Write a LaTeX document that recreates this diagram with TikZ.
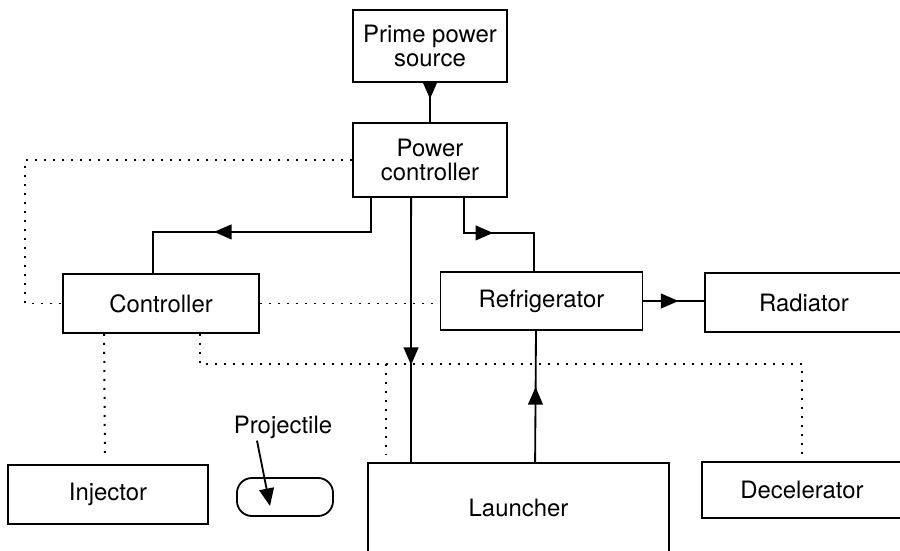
\documentclass[tikz,border=0pt]{standalone}
\usepackage{fontspec}
\setmainfont{TeX Gyre Heros}
\usepackage{tikz}
\usetikzlibrary{
  arrows.meta,
  decorations.markings
}

\begin{document}
\begin{tikzpicture}[
  x=0.025cm, y=-0.025cm,
  block/.style={rectangle, draw, line width=1.3pt, minimum width=4.9cm, minimum height=1.475cm, inner sep=0pt, align=center, font=\fontsize{17}{17.5}\selectfont},
  tag/.style={inner sep=0pt, font=\fontsize{17}{17.5}\selectfont},
  conn/.style={line width=1.3pt},
  dotlink/.style={line width=1.4pt, dash pattern=on 1.4pt off 5pt},
  midtip/.style={postaction={decorate}, decoration={markings, mark=at position #1 with {\arrow{Triangle[length=12.5pt, width=10.5pt]}}}}
]
  \useasboundingbox (0,0) rectangle (900,551);
  \clip (0,0) rectangle (900,551);

  \node[block, minimum width=3.85cm, minimum height=1.8cm] (prime) at (430,46) {Prime power\\source};
  \node[block, minimum width=3.85cm, minimum height=1.85cm] (pctrl) at (430,160) {Power\\controller};

  \node[block] (ctrl) at (161,303.5) {Controller};
  \node[block, minimum width=5.05cm, minimum height=1.45cm] (refr) at (541.5,301) {Refrigerator};
  \node[block, minimum width=4.95cm] (rad) at (804,302.5) {Radiator};

  \node[block, minimum width=5cm] (inj) at (108,494.5) {Injector};
  \node[block, minimum width=2.4cm, minimum height=0.95cm, rounded corners=0.375cm] (proj) at (285,497) {};
  \node[tag] (projlbl) at (283,427) {Projectile};
  \node[block, minimum width=7.525cm, minimum height=2.25cm] (launch) at (518.5,508) {Launcher};
  \node[block, minimum width=5cm, minimum height=1.4cm] (decel) at (802,490) {Decelerator};

  % power lines
  \draw[conn, midtip=0.4cm] (prime) -- (pctrl);
  \draw[conn, midtip=4.775cm] ([xshift=0.475cm]pctrl.south west) -- ++(0,34) -| ([xshift=-0.2cm]ctrl.north);
  \draw[conn, midtip=4.175cm] ([xshift=1.475cm]pctrl.south west) -- ([xshift=1.1cm]launch.north west);
  \draw[conn, midtip=1.6cm] ([xshift=2.8cm]pctrl.south west) -- ++(0,35) -| ([xshift=-0.19cm]refr.north);
  \draw[conn, midtip=0.875cm] (refr.east) -- (refr.east -| rad.west);
  \draw[conn, midtip=1.875cm] ([xshift=4.2cm]launch.north west) -- ([xshift=-0.1375cm]refr.south);

  % control lines
  \draw[dotlink] (pctrl.west) -- ++(-327,0) |- (ctrl.west);
  \draw[dotlink] (ctrl.east) -- (ctrl.east -| refr.west);
  \draw[dotlink, shorten >=0.18cm] ([xshift=3.45cm]ctrl.south west) -- ++(0,30.5) coordinate (dotjoin) -| (decel.north);
  \coordinate (launchdot) at ([xshift=0.475cm]launch.north west);
  \draw[dotlink, shorten >=0.18cm] (launchdot |- dotjoin) -- (launchdot);
  \draw[dotlink, shorten >=0.22cm] ([xshift=1.05cm]ctrl.south west) -- ([xshift=-0.075cm]inj.north);

  \draw[conn, -{Triangle[length=12.5pt, width=10.5pt]}] ([xshift=-0.65cm, yshift=-0.05cm]projlbl.south) -- ([xshift=-0.375cm, yshift=-0.225cm]proj.center);
\end{tikzpicture}
\end{document}
